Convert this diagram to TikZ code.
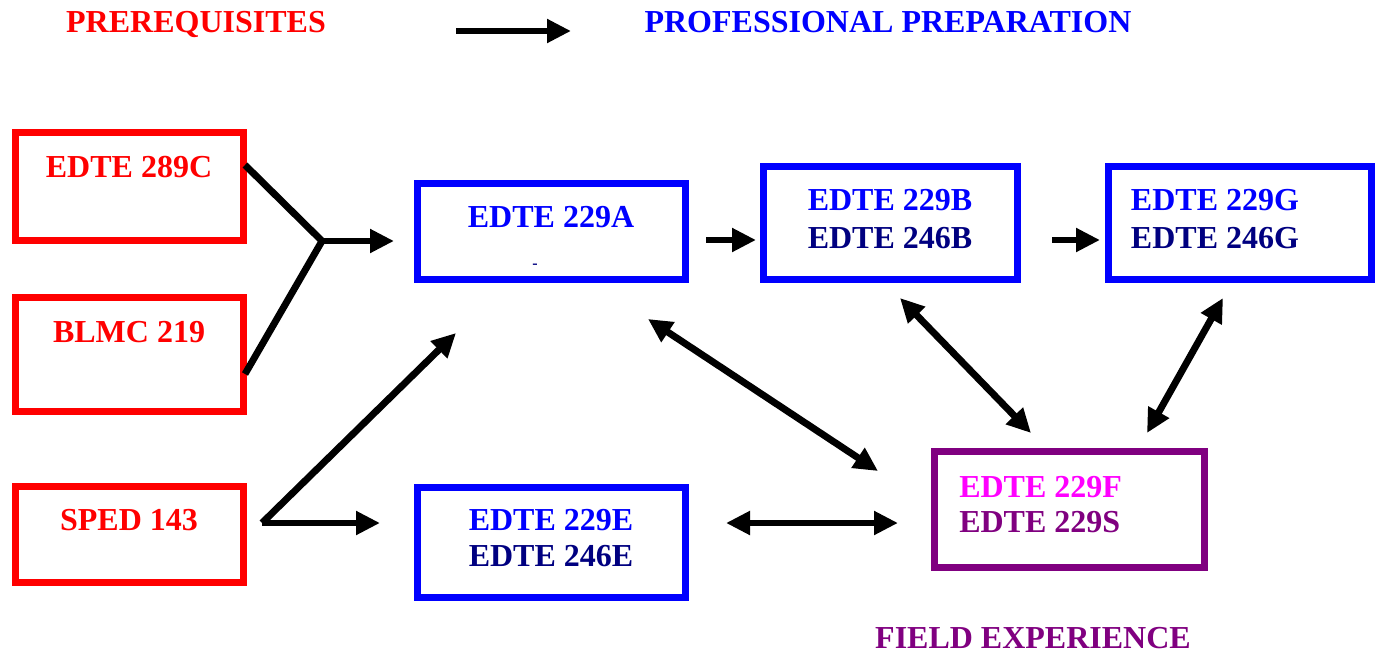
\documentclass[tikz,border=0pt]{standalone}
\usepackage{fontspec}
\setmainfont{Liberation Serif}
\usetikzlibrary{arrows.meta}
\definecolor{cred}{RGB}{255,0,0}
\definecolor{cblue}{RGB}{0,0,255}
\definecolor{cnavy}{RGB}{0,0,128}
\definecolor{cpurple}{RGB}{128,0,128}
\definecolor{cmag}{RGB}{255,0,255}
\tikzset{
  box/.style={draw=#1, line width=5.6pt, inner sep=0pt, fill=none},
  lbl/.style={text=#1, inner sep=0pt, anchor=base, font=\fontsize{24}{28}\selectfont\bfseries},
  conn/.style={line width=5.2pt, line cap=butt, -{Triangle[length=18pt,width=17pt]}},
  dconn/.style={line width=5.2pt, line cap=butt, {Triangle[length=18pt,width=17pt]}-{Triangle[length=18pt,width=17pt]}},
  seg/.style={line width=5.2pt, line cap=butt, line join=miter},
}
\begin{document}
\begin{tikzpicture}[x=0.75pt,y=-0.75pt]
\useasboundingbox (0,0) rectangle (1381,653);
% headings
\node[lbl=cred] (hpre) at (196,32) {PREREQUISITES};
\node[lbl=cblue] (hpro) at (888,32) {PROFESSIONAL PREPARATION};
\node[lbl=cpurple] (hfe) at (1033,648) {FIELD EXPERIENCE};
\coordinate (ha1) at (456,31);
\coordinate (ha2) at (571,31);
\draw[conn] (ha1) -- (ha2);
% boxes
\node[box=cred, minimum width=228*0.75pt, minimum height=108*0.75pt] (p1) at (129.5,186.5) {};
\node[box=cred, minimum width=228*0.75pt, minimum height=114*0.75pt] (p2) at (129.5,354.5) {};
\node[box=cred, minimum width=228*0.75pt, minimum height=96*0.75pt] (p3) at (129.5,534.5) {};
\node[box=cblue, minimum width=268*0.75pt, minimum height=96*0.75pt] (a) at (551.5,231.5) {};
\node[box=cblue, minimum width=254*0.75pt, minimum height=113*0.75pt] (b) at (890.5,223) {};
\node[box=cblue, minimum width=263*0.75pt, minimum height=113*0.75pt] (g) at (1240,223) {};
\node[box=cblue, minimum width=268*0.75pt, minimum height=110*0.75pt] (e) at (551.5,542.5) {};
\node[box=cpurple, minimum width=270*0.75pt, minimum height=116*0.75pt] (f) at (1069.5,509.5) {};
% texts
\node[lbl=cred] (tp1) at (129,177.5) {EDTE 289C};
\node[lbl=cred] (tp2) at (129,342.5) {BLMC 219};
\node[lbl=cred] (tp3) at (129,530.5) {SPED 143};
\node[lbl=cblue] (ta) at (551,227.5) {EDTE 229A};
\node[text=cnavy, inner sep=0pt, font=\fontsize{12}{14}\selectfont\bfseries] (tdash) at (535,266.5) {-};
\node[lbl=cblue] (tb1) at (890,210.5) {EDTE 229B};
\node[lbl=cnavy] (tb2) at (890,248.5) {EDTE 246B};
\node[lbl=cblue] (tg1) at (1215,210.5) {EDTE 229G};
\node[lbl=cnavy] (tg2) at (1215,248.5) {EDTE 246G};
\node[lbl=cblue] (te1) at (551,530.5) {EDTE 229E};
\node[lbl=cnavy] (te2) at (551,566.5) {EDTE 246E};
\node[lbl=cmag, anchor=base west] (tf1) at (959,497.5) {EDTE 229F};
\node[lbl=cpurple, anchor=base west] (tf2) at (959,532.5) {EDTE 229S};
% connector points
\coordinate (s1) at (245,165);
\coordinate (s2) at (245,374);
\coordinate (jn) at (322,241);
\coordinate (jt) at (394,241);
\coordinate (ab1) at (706,240);
\coordinate (ab2) at (756,240);
\coordinate (bg1) at (1052,240);
\coordinate (bg2) at (1100,240);
\coordinate (af1) at (648,319);
\coordinate (af2) at (878,471);
\coordinate (bf1) at (900,298);
\coordinate (bf2) at (1031,433);
\coordinate (gf1) at (1223,298);
\coordinate (gf2) at (1147,433);
\coordinate (ss) at (262,523);
\coordinate (sa) at (456,333);
\coordinate (se) at (380,523);
\coordinate (ef1) at (726,523);
\coordinate (ef2) at (898,523);
% connectors
\draw[seg] (s1) -- (jn) -- (s2);
\draw[conn] (jn) -- (jt);
\draw[conn] (ab1) -- (ab2);
\draw[conn] (bg1) -- (bg2);
\draw[dconn] (af1) -- (af2);
\draw[dconn] (bf1) -- (bf2);
\draw[dconn] (gf1) -- (gf2);
\draw[conn] (ss) -- (sa);
\draw[conn] (ss) -- (se);
\draw[dconn] (ef1) -- (ef2);
\end{tikzpicture}
\end{document}
